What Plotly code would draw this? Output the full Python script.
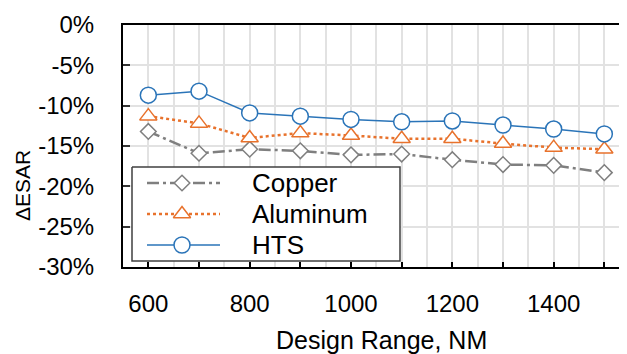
import plotly.graph_objects as go

# ---- data ----
ranges_nm = [600, 700, 800, 900, 1000, 1100, 1200, 1300, 1400, 1500]
copper = [-13.2, -15.9, -15.4, -15.6, -16.1, -16.0, -16.7, -17.3, -17.4, -18.3]
aluminum = [-11.3, -12.2, -14.0, -13.4, -13.7, -14.1, -14.1, -14.7, -15.2, -15.4]
hts = [-8.7, -8.2, -10.9, -11.3, -11.7, -12.0, -11.9, -12.4, -12.9, -13.5]
series_names = ["Copper", "Aluminum", "HTS"]
x_tick_vals = [600, 700, 800, 900, 1000, 1100, 1200, 1300, 1400, 1500]
x_tick_text = ["600", "", "800", "", "1000", "", "1200", "", "1400", ""]
y_tick_vals = [0, -5, -10, -15, -20, -25, -30]

FONT = "Liberation Sans, Arial, sans-serif"
GRAY = "#7f7f7f"
ORANGE = "#e8722c"
BLUE = "#2a74b8"
GRID = "#e2e2e2"

# page body has an 8px default margin -> build the figure 8px smaller
OFF = 8
W, H = 627 - OFF, 354 - OFF
ML, MT = 123 - OFF, 25 - OFF
MR, MB = 0, 87
PW, PH = W - ML - MR, H - MT - MB

styles = [
    dict(color=GRAY, dash="12px,4px,3px,4px", width=2.5, symbol="diamond", size=12),
    dict(color=ORANGE, dash="dot", width=2.5, symbol="triangle-up", size=15),
    dict(color=BLUE, dash="solid", width=1.5, symbol="circle", size=16),
]
values = [copper, aluminum, hts]

fig = go.Figure()
for name, vals, st in zip(series_names, values, styles):
    fig.add_trace(go.Scatter(
        x=ranges_nm, y=vals, name=name, mode="lines+markers", showlegend=False,
        line=dict(color=st["color"], dash=st["dash"], width=st["width"]),
        marker=dict(symbol=st["symbol"], size=st["size"], color="white",
                    line=dict(color=st["color"], width=1.5)),
        cliponaxis=False,
    ))

# ---- custom legend on an overlay axis (0..1 of the plot area) ----
# helpers take page-pixel positions (as in the reference picture)
def fx(px):
    return (px - OFF - ML) / PW

def fy(py):
    return (MT + PH - (py - OFF)) / PH

bx0, bx1, by0, by1 = 132, 400, 167, 261
fig.add_trace(go.Scatter(
    x=[fx(bx0), fx(bx1), fx(bx1), fx(bx0), fx(bx0)],
    y=[fy(by0), fy(by0), fy(by1), fy(by1), fy(by0)],
    mode="lines", fill="toself", fillcolor="white",
    line=dict(color="#404040", width=1.5), xaxis="x2", yaxis="y2",
    showlegend=False, hoverinfo="skip",
))
rows_y = [183, 214, 245]
for name, st, ry in zip(series_names, styles, rows_y):
    fig.add_trace(go.Scatter(
        x=[fx(147), fx(220)], y=[fy(ry), fy(ry)], mode="lines",
        line=dict(color=st["color"], dash=st["dash"], width=st["width"]),
        xaxis="x2", yaxis="y2", showlegend=False, hoverinfo="skip",
    ))
    fig.add_trace(go.Scatter(
        x=[fx(182)], y=[fy(ry)], mode="markers",
        marker=dict(symbol=st["symbol"], size=st["size"], color="white",
                    line=dict(color=st["color"], width=1.5)),
        xaxis="x2", yaxis="y2", showlegend=False, hoverinfo="skip",
    ))
    fig.add_annotation(x=fx(250), y=fy(ry), xref="paper", yref="paper",
                       text=name, showarrow=False, xanchor="left", yanchor="middle",
                       font=dict(family=FONT, size=26, color="black"))

# axis titles
fig.add_annotation(x=fx(381), y=fy(340), xref="paper", yref="paper",
                   text="Design Range, NM", showarrow=False,
                   xanchor="center", yanchor="middle",
                   font=dict(family=FONT, size=25, color="black"))
fig.add_annotation(x=fx(22), y=fy(186), xref="paper", yref="paper",
                   text="ΔESAR", showarrow=False, textangle=-90,
                   xanchor="center", yanchor="middle", borderpad=0,
                   font=dict(family=FONT, size=21, color="black"))

fig.update_layout(
    width=W, height=H,
    margin=dict(l=ML, r=MR, t=MT, b=MB, autoexpand=False),
    paper_bgcolor="white", plot_bgcolor="white",
    font=dict(family=FONT, size=24, color="black"),
    xaxis=dict(
        range=[550, 550 + PW / (456 / 900)], automargin=False,
        tickvals=x_tick_vals, ticktext=x_tick_text,
        ticks="inside", ticklen=5, tickwidth=1.5, tickcolor="black",
        showgrid=True, gridcolor=GRID, gridwidth=2,
        minor=dict(tick0=550, dtick=50, showgrid=True, gridcolor=GRID,
                   gridwidth=2, ticks=""),
        showline=True, linecolor="black", linewidth=2, mirror=True,
        zeroline=False, ticklabelstandoff=14,
        tickfont=dict(family=FONT, size=24, color="black"),
    ),
    yaxis=dict(
        range=[-30, 0], tickvals=y_tick_vals, automargin=False,
        ticktext=[f"{v}%" for v in y_tick_vals],
        ticks="inside", ticklen=7, tickwidth=2, tickcolor="#333333",
        showgrid=True, gridcolor=GRID, gridwidth=2,
        showline=True, linecolor="black", linewidth=2,
        zeroline=False, ticklabelstandoff=22,
        tickfont=dict(family=FONT, size=24, color="black"),
    ),
    xaxis2=dict(overlaying="x", anchor="y2", range=[0, 1], visible=False),
    yaxis2=dict(overlaying="y", anchor="x2", range=[0, 1], visible=False),
)

fig.write_html("out.html")
